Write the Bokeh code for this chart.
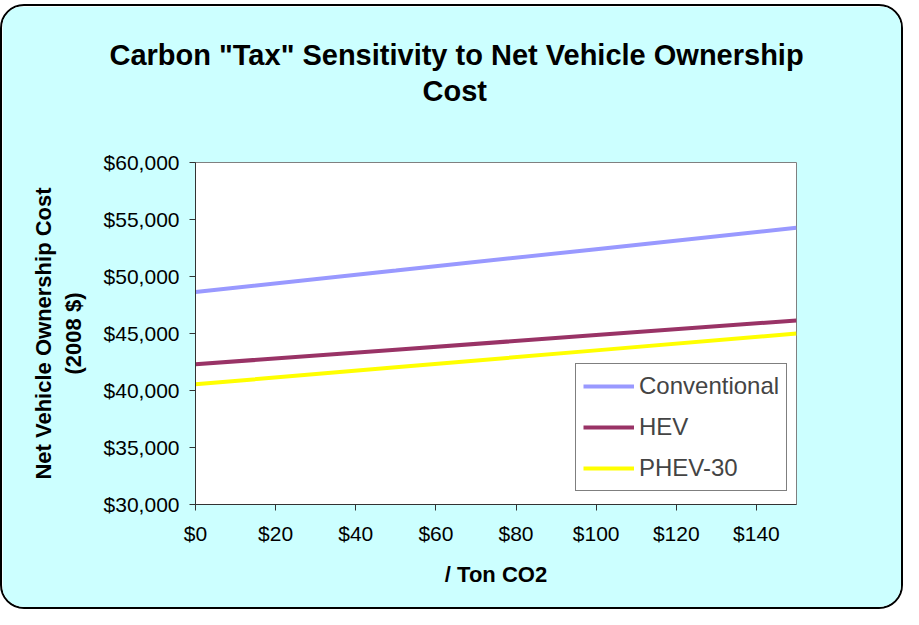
from bokeh.plotting import figure
from bokeh.models import Range1d, FixedTicker, NumeralTickFormatter, Title
from bokeh.embed import file_html
from bokeh.resources import INLINE

# ---- data ----
carbon_tax = [0, 50, 100, 150]                      # $ / ton CO2
conventional = [48650, 50520, 52400, 54280]
hev = [42300, 43580, 44860, 46150]
phev30 = [40550, 42030, 43520, 45000]
x_ticks = [0, 20, 40, 60, 80, 100, 120, 140]
y_ticks = [30000, 35000, 40000, 45000, 50000, 55000, 60000]
title_line1 = 'Carbon "Tax" Sensitivity to Net Vehicle Ownership'
title_line2 = "Cost"

FONT = "Liberation Sans"

p = figure(width=903, height=605, output_backend="svg", toolbar_location=None,
           x_range=Range1d(0, 150), y_range=Range1d(30000, 60000),
           min_border_left=193, min_border_right=109,
           min_border_top=156, min_border_bottom=107)
p.title.text = ""
p.title.visible = False
p.styles = {"margin-top": "4px", "border": "2px solid black",
            "border-radius": "24px", "overflow": "hidden",
            "box-sizing": "border-box"}
p.background_fill_color = "white"
p.border_fill_color = "#CCFFFF"
p.outline_line_color = "#808080"
p.outline_line_width = 1
p.xgrid.visible = False
p.ygrid.visible = False

for ax in (p.xaxis[0], p.yaxis[0]):
    ax.axis_line_color = "#333333"
    ax.major_tick_line_color = "#333333"
    ax.major_tick_out = 6
    ax.major_tick_in = 0
    ax.minor_tick_line_color = None
    ax.major_label_text_font = FONT
    ax.major_label_text_font_size = "21px"
    ax.major_label_text_color = "black"
    ax.axis_label_text_font = FONT
    ax.axis_label_text_font_size = "22px"
    ax.axis_label_text_font_style = "bold"
    ax.axis_label_text_color = "black"

p.xaxis.ticker = FixedTicker(ticks=x_ticks)
p.xaxis.formatter = NumeralTickFormatter(format="$0,0")
p.xaxis.major_label_standoff = 11
p.xaxis.axis_label = "/ Ton CO2"
p.xaxis.axis_label_standoff = 14

p.yaxis.ticker = FixedTicker(ticks=y_ticks)
p.yaxis.formatter = NumeralTickFormatter(format="$0,0")
p.yaxis.major_label_standoff = 10
p.yaxis.axis_label = "Net Vehicle Ownership Cost\n(2008 $)"
p.yaxis.axis_label_standoff = 15

p.line(carbon_tax, conventional, line_width=4, color="#9999FF", legend_label="Conventional")
p.line(carbon_tax, hev, line_width=4, color="#993366", legend_label="HEV")
p.line(carbon_tax, phev30, line_width=4, color="#FFFF00", legend_label="PHEV-30")

lg = p.legend[0]
lg.location = (380, 13)
lg.border_line_color = "black"
lg.border_line_width = 1
lg.background_fill_color = "white"
lg.background_fill_alpha = 1
lg.label_text_font = FONT
lg.label_text_font_size = "24px"
lg.glyph_width = 51
lg.glyph_height = 30
lg.label_height = 30
lg.label_standoff = 5
lg.spacing = 11
lg.padding = 7
lg.margin = 0

# titles stacked above the frame: spacer (nearest), line 2, line 1
p.add_layout(Title(text=" ", text_font_size="10px", standoff=41), "above")
p.add_layout(Title(text=title_line2, align="left", offset=227, standoff=2,
                   vertical_align="middle", text_font=FONT, text_font_size="29px",
                   text_font_style="bold", text_color="black"), "above")
p.add_layout(Title(text=title_line1, align="left", offset=-86, standoff=2,
                   vertical_align="middle", text_font=FONT, text_font_size="29px",
                   text_font_style="bold", text_color="black"), "above")

open("out.html", "w").write(file_html(p, INLINE))
